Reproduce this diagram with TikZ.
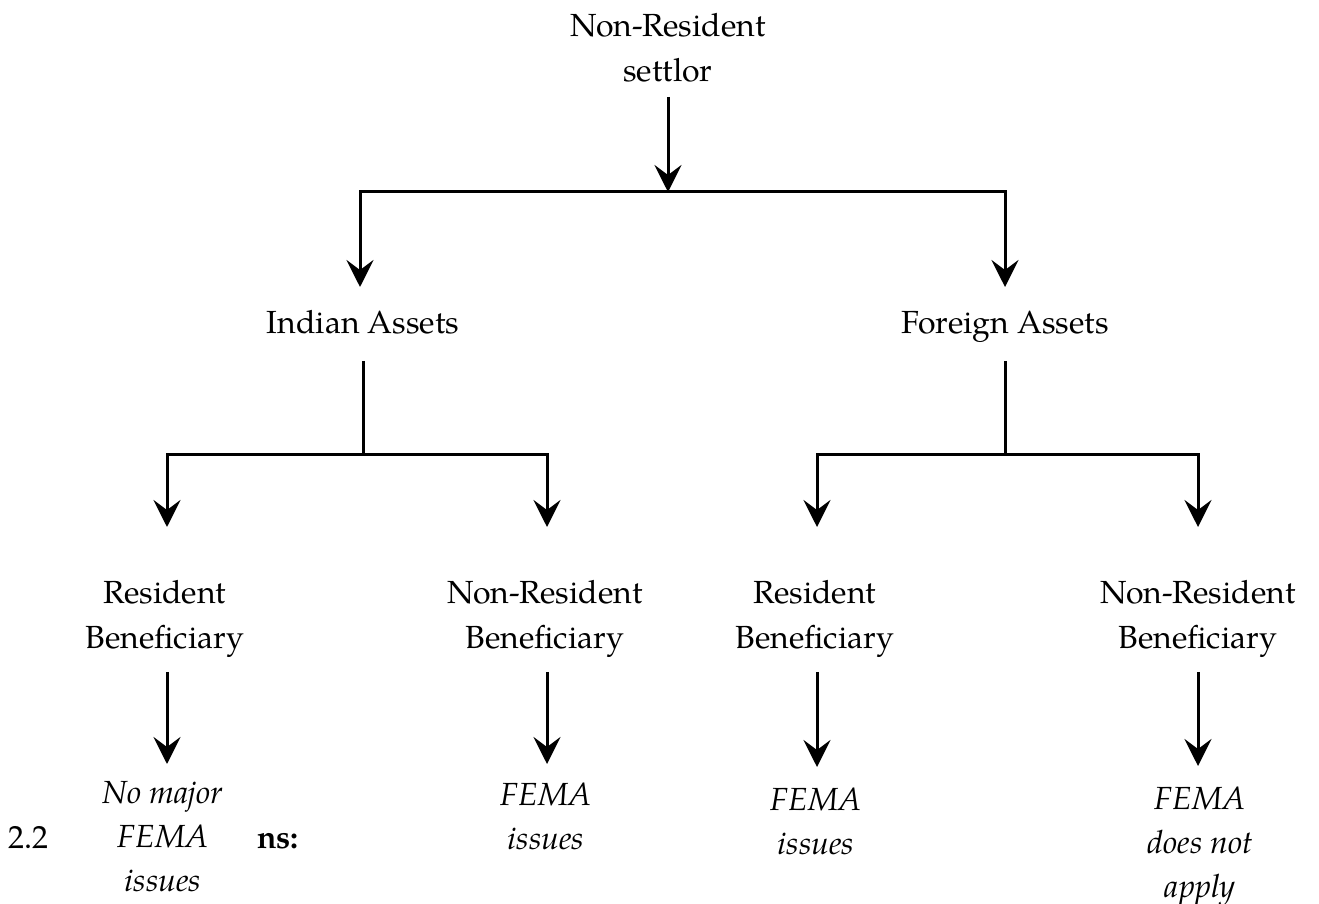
\documentclass[tikz,border=0pt]{standalone}
\usepackage{fontspec}
\setmainfont{TeX Gyre Pagella}
\usetikzlibrary{arrows.meta,calc}
\newcommand{\mylines}[1]{\begin{tabular}[t]{@{}c@{}}#1\end{tabular}}
\tikzset{
  lbl/.style={anchor=base, inner sep=0pt, font=\fontsize{16pt}{22.5pt}\selectfont},
  res/.style={lbl, font=\fontsize{16pt}{22pt}\selectfont\itshape},
  conn/.style={line width=1.5pt},
  arr/.style={conn, -{Stealth[length=13.5pt,width=13.5pt,inset=5pt]}}
}
\begin{document}
\begin{tikzpicture}[x=0.5pt,y=-0.5pt]
\useasboundingbox (0,0) rectangle (1319,904);
% nodes
\node[lbl] (root) at (668,37) {\mylines{Non-Resident\\settlor}};
\node[lbl] (ind) at (363,333) {\mylines{Indian Assets}};
\node[lbl] (for) at (1005,333) {\mylines{Foreign Assets}};
\node[lbl] (b1) at (165,603) {\mylines{Resident\\Beneficiary}};
\node[lbl] (b2) at (545,603) {\mylines{Non-Resident\\Beneficiary}};
\node[lbl] (b3) at (815,603) {\mylines{Resident\\Beneficiary}};
\node[lbl] (b4) at (1198,603) {\mylines{Non-Resident\\Beneficiary}};
\node[res] (o1) at (163,803) {\mylines{No major\\FEMA\\issues}};
\node[res] (o2) at (546,805) {\mylines{FEMA\\issues}};
\node[res] (o3) at (816,810) {\mylines{FEMA\\issues}};
\node[res] (o4) at (1200,809) {\mylines{FEMA\\does not\\apply}};
\node[lbl] (num) at (29,848) {2.2};
\node[lbl, font=\fontsize{16pt}{22.5pt}\selectfont\bfseries] (ns) at (278,848) {ns:};
% junctions
\coordinate (j0) at (668,192);
\coordinate (jI) at (358,454);
\coordinate (jF) at (1004,454);
% tips
\coordinate (tI) at (360,287);
\coordinate (tF) at (1005,287);
\coordinate (t1) at (167,527);
\coordinate (t2) at (547,527);
\coordinate (t3) at (817,527);
\coordinate (t4) at (1198,527);
\coordinate (u1) at (167,764);
\coordinate (u2) at (547,764);
\coordinate (u3) at (817,767);
\coordinate (u4) at (1198,766);
% connectors
\draw[arr] ([yshift=-0.5pt]root.south) -- (root.south |- j0);
\draw[arr] (j0) -| (tI);
\draw[arr] (j0) -| (tF);
\draw[conn] ([yshift=-7pt]ind.south) -- (ind.south |- jI) coordinate (jI);
\draw[arr] (jI) -| (t1);
\draw[arr] (jI) -| (t2);
\draw[conn] ([yshift=-7pt]for.south) -- (for.south |- jF) coordinate (jF);
\draw[arr] (jF) -| (t3);
\draw[arr] (jF) -| (t4);
\draw[arr] ([yshift=-5pt]b1.south -| u1) -- (u1);
\draw[arr] ([yshift=-5pt]b2.south -| u2) -- (u2);
\draw[arr] ([yshift=-5pt]b3.south -| u3) -- (u3);
\draw[arr] ([yshift=-5pt]b4.south -| u4) -- (u4);
\end{tikzpicture}
\end{document}
